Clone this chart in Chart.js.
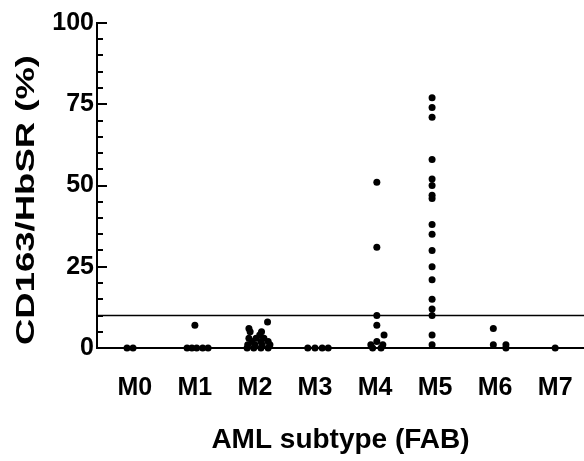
<!DOCTYPE html>
<html>
<head>
<meta charset="utf-8">
<script src="https://cdn.jsdelivr.net/npm/chart.js@4/dist/chart.umd.min.js"></script>
<style>
  body { margin: 0; background: #fff; }
  canvas { display: block; }
</style>
</head>
<body>
<canvas id="myChart" width="584" height="461"></canvas>
<script>
// FAB subtypes on the x axis
var categories = ['M0', 'M1', 'M2', 'M3', 'M4', 'M5', 'M6', 'M7'];

// CD163/HbSR (%) per patient, and a small sideways shift (in category units) so dots don't stack
var m0 = [0, 0];
var m0Dx = [-0.13, -0.03];
var m1 = [7, 0, 0, 0, 0, 0];
var m1Dx = [0, -0.13, -0.05, 0.03, 0.13, 0.22];
var m2 = [8, 6, 5, 5, 4, 3, 3, 3, 2, 2, 2, 1, 1, 1, 1, 0, 0, 0, 0];
var m2Dx = [0.21, -0.1, -0.08, 0.11, 0.08, -0.1, 0.02, 0.15, -0.05, 0.1, 0.22, -0.12, 0, 0.12, 0.25, -0.13, -0.02, 0.1, 0.22];
var m3 = [0, 0, 0, 0];
var m3Dx = [-0.12, 0, 0.12, 0.22];
var m4 = [51, 31, 10, 7, 4, 2, 1, 1, 0, 0];
var m4Dx = [0.03, 0.03, 0.03, 0.03, 0.15, 0.03, -0.07, 0.13, -0.04, 0.1];
var m5 = [77, 74, 71, 58, 52, 50, 47, 46, 38, 35, 30, 25, 21, 15, 12, 10, 4, 1];
var m5Dx = [-0.05, -0.05, -0.05, -0.05, -0.05, -0.05, -0.05, -0.05, -0.05, -0.05, -0.05, -0.05, -0.05, -0.05, -0.05, -0.05, -0.05, -0.05];
var m6 = [6, 1, 1, 0];
var m6Dx = [-0.03, -0.03, 0.18, 0.18];
var m7 = [0];
var m7Dx = [0];

var cutoff = 10;
var yTicks = [0, 25, 50, 75, 100];
var yTitle = 'CD163/HbSR (%)';
var xTitle = 'AML subtype (FAB)';

var groups = [m0, m1, m2, m3, m4, m5, m6, m7];
var shifts = [m0Dx, m1Dx, m2Dx, m3Dx, m4Dx, m5Dx, m6Dx, m7Dx];

var xMin = -0.63, xMax = 7.48;

var points = [];
for (var i = 0; i < groups.length; i++) {
  for (var j = 0; j < groups[i].length; j++) {
    points.push({ x: i + shifts[i][j], y: groups[i][j] });
  }
}

Chart.defaults.font.family = '"Liberation Sans", Arial, sans-serif';
Chart.defaults.font.weight = 'bold';
Chart.defaults.color = '#000';

// inward tick marks on the y axis + the tall, stretched y title of the original
var axisExtras = {
  id: 'axisExtras',
  afterDraw: function(chart) {
    var ctx = chart.ctx;
    var y = chart.scales.y;
    var left = chart.chartArea.left;
    ctx.save();
    ctx.strokeStyle = '#000';
    ctx.lineWidth = 2;
    y.ticks.forEach(function(t) {
      var py = Math.round(y.getPixelForValue(t.value));
      var len = yTicks.indexOf(t.value) >= 0 ? 10 : 6;
      ctx.beginPath();
      ctx.moveTo(left, py);
      ctx.lineTo(left + len, py);
      ctx.stroke();
    });
    ctx.restore();

    ctx.save();
    ctx.font = 'bold 26px "Liberation Sans", Arial, sans-serif';
    ctx.fillStyle = '#000';
    ctx.textAlign = 'center';
    ctx.textBaseline = 'middle';
    var w = ctx.measureText(yTitle).width;
    ctx.translate(27, 200);
    ctx.rotate(-Math.PI / 2);
    ctx.scale(290 / w, 1);
    ctx.fillText(yTitle, 0, 0);
    ctx.restore();
  }
};

var ctx = document.getElementById('myChart');
var myChart = new Chart(ctx, {
  type: 'scatter',
  data: {
    datasets: [{
      label: 'patients',
      data: points,
      backgroundColor: '#000',
      borderColor: '#000',
      pointRadius: 3.5,
      pointBorderWidth: 0,
      clip: false
    }, {
      type: 'line',
      label: 'cutoff',
      data: [{ x: xMin, y: cutoff }, { x: xMax, y: cutoff }],
      borderColor: '#000',
      borderWidth: 1.5,
      pointRadius: 0,
      showLine: true
    }]
  },
  options: {
    responsive: false,
    animation: false,
    layout: { autoPadding: false, padding: { top: 23, right: 0, bottom: 0, left: 0 } },
    plugins: {
      legend: { display: false },
      tooltip: { enabled: false }
    },
    scales: {
      x: {
        type: 'linear',
        min: xMin,
        max: xMax,
        afterFit: function(s) {
          s.height = 113;
          s.paddingLeft = 0;
          s.paddingRight = 0;
        },
        grid: { display: false, drawTicks: false },
        border: { display: true, color: '#000', width: 2 },
        ticks: {
          stepSize: 1,
          includeBounds: false,
          autoSkip: false,
          maxRotation: 0,
          padding: 25,
          font: { size: 25, weight: 'bold' },
          callback: function(v) { return categories[v] !== undefined ? categories[v] : ''; }
        },
        title: {
          display: true,
          text: xTitle,
          font: { size: 28, weight: 'bold' },
          padding: { top: 0, bottom: 4 }
        }
      },
      y: {
        min: 0,
        max: 100,
        afterFit: function(s) {
          s.width = 97;
          s.paddingTop = 0;
          s.paddingBottom = 0;
        },
        grid: { display: false, drawTicks: false },
        border: { display: true, color: '#000', width: 2 },
        ticks: {
          stepSize: 5,
          autoSkip: false,
          padding: 3,
          font: { size: 25, weight: 'bold' },
          callback: function(v) { return yTicks.indexOf(v) >= 0 ? v : ''; }
        },
        title: { display: false }
      }
    }
  },
  plugins: [axisExtras]
});
</script>
</body>
</html>
